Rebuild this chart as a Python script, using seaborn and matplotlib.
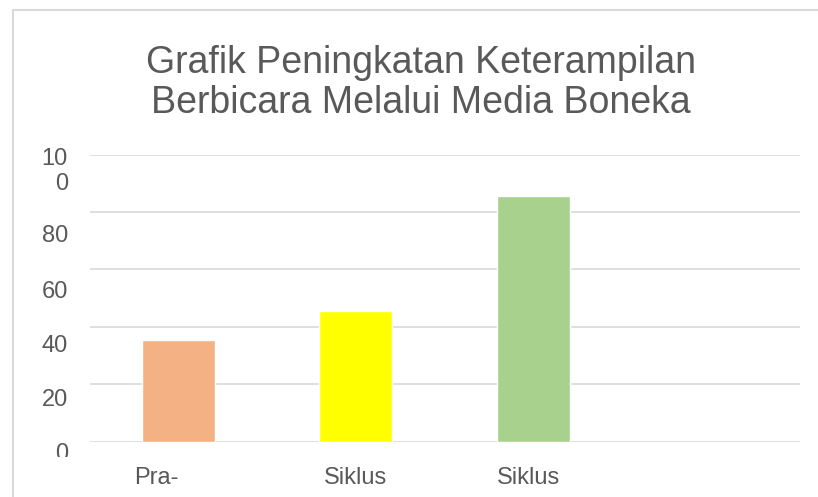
import matplotlib
matplotlib.use('Agg')
import matplotlib.pyplot as plt
import matplotlib.transforms as mtrans
from matplotlib.lines import Line2D
import pandas as pd
import seaborn as sns

# Data
kategori = ['Pra-Siklus', 'Siklus I', 'Siklus II', '']
nilai = [35.5, 45.3, 85.6]
label_x = ['Pra-', 'Siklus', 'Siklus', '']
warna = ['#F4B183', '#FFFF00', '#A9D18E']
yticks = [0, 20, 40, 60, 80, 100]
label_y = ['0', '20', '40', '60', '80', '10\n0']

df = pd.DataFrame({'kategori': kategori[:3], 'nilai': nilai})

sns.set_theme(style='white')
plt.rcParams['font.family'] = ['Liberation Sans', 'DejaVu Sans']
abu = '#595959'
garis = '#D9D9D9'

fig = plt.figure(figsize=(8.18, 4.97), dpi=100)
ax = fig.add_axes([89.5 / 818, 1 - 441.5 / 497, 710 / 818, 287 / 497])

sns.barplot(data=df, x='kategori', y='nilai', order=kategori, hue='kategori',
            hue_order=kategori[:3], palette=warna, width=0.41, legend=False,
            saturation=1, ax=ax, zorder=3)

ax.set_xlim(-0.5, 3.5)
ax.set_ylim(0, 100)
ax.set_yticks(yticks)
ax.set_yticklabels(label_y, fontsize=17, color=abu, multialignment='right')
ax.set_xticks(range(4))
ax.set_xticklabels(label_x, fontsize=17, color=abu)
ax.set_xlabel('')
ax.set_ylabel('')
ax.tick_params(axis='both', length=0)
ax.tick_params(axis='y', pad=15.5)
ax.tick_params(axis='x', pad=18)
ax.grid(axis='y', color=garis, linewidth=1.2, zorder=0)
for s in ax.spines.values():
    s.set_visible(False)

# label "Pra-" sits left of the tick, third label slightly left
xl = ax.get_xticklabels()
xl[0].set_ha('right')
xl[2].set_transform(xl[2].get_transform() +
                    mtrans.ScaledTranslation(-5 / 100, 0, fig.dpi_scale_trans))

# in the original the y labels drift below their gridlines (Excel squeeze)
geser = [10, 13.5, 17, 20, 22, 13]
yl = ax.get_yticklabels()
for lbl, d in zip(yl, geser):
    lbl.set_transform(lbl.get_transform() +
                      mtrans.ScaledTranslation(0, -d / 100, fig.dpi_scale_trans))
# label 0 cut off at the bottom like the original
yl[0].set_clip_box(mtrans.TransformedBbox(mtrans.Bbox([[0, 40 / 497], [1, 1]]), fig.transFigure))
yl[0].set_clip_on(True)

fig.text(421 / 818, 1 - 45 / 497, 'Grafik Peningkatan Keterampilan\nBerbicara Melalui Media Boneka',
         ha='center', va='top', fontsize=27, color=abu, linespacing=1.15)

# frame of the chart area
fig.add_artist(Line2D([12.5 / 818, 12.5 / 818], [0, 1 - 10 / 497], transform=fig.transFigure,
                      color=garis, linewidth=1.5))
fig.add_artist(Line2D([12.5 / 818, 1], [1 - 10 / 497, 1 - 10 / 497], transform=fig.transFigure,
                      color=garis, linewidth=1.5))

fig.savefig('out.png', dpi=100, facecolor='white')
